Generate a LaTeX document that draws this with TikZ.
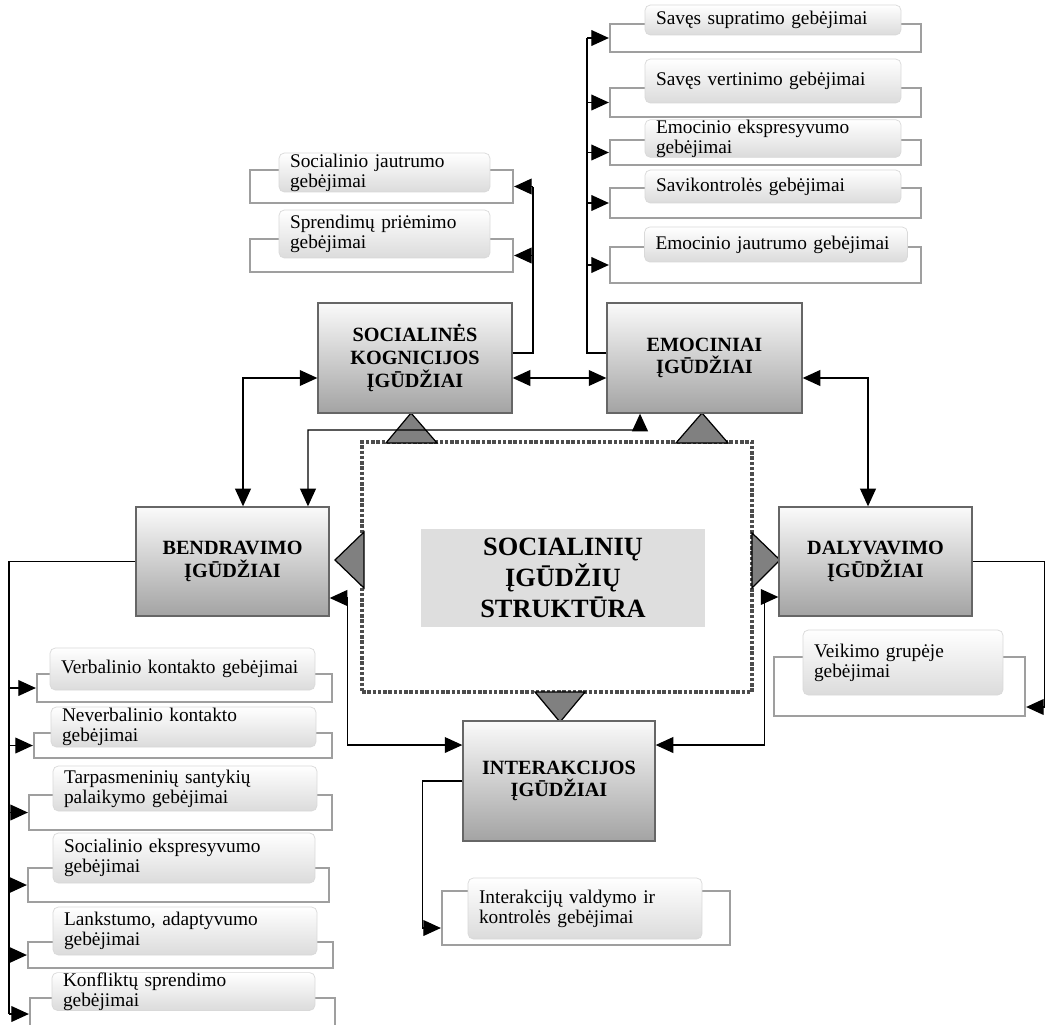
\documentclass[tikz,border=0pt]{standalone}
\usepackage{fontspec}
\setmainfont{Liberation Serif}
\usepackage{tikz}
\usetikzlibrary{arrows.meta}
\usetikzlibrary{calc}
\hyphenpenalty=10000
\tikzstyle{igbox}=[draw=gray!80!black, line width=0.8pt, top color=gray!4, bottom color=gray!72, align=center, font=\bfseries\fontsize{11.5}{13}\selectfont, minimum width=3.88cm, minimum height=2.2cm, inner sep=0pt]
\tikzstyle{gbox}=[draw=gray!75, line width=1.3pt, inner sep=0pt]
\tikzstyle{gcard}=[draw=gray!30, line width=0.4pt, rounded corners=3pt, top color=white, bottom color=gray!28, align=left, inner xsep=0.22cm, inner ysep=0pt, font=\fontsize{11}{11.4}\selectfont]
\tikzstyle{tri}=[draw=black, fill=gray, line width=0.7pt, line join=miter]
\begin{document}
\begin{tikzpicture}[x=0.02cm, y=-0.02cm, >={Triangle[length=10pt,width=9pt]}, line width=0.7pt]
\useasboundingbox[fill=white] (0,0) rectangle (1047,1024);
% centre
\node[draw=gray!60!black, densely dotted, line width=2pt, minimum width=7.8cm, minimum height=5cm] (sis) at (557,567) {};
\node[fill=gray!26, minimum width=5.68cm, minimum height=1.96cm, align=center, font=\bfseries\fontsize{15}{17.6}\selectfont] (sist) at (563,578) {SOCIALINIŲ\\ĮGŪDŽIŲ\\STRUKTŪRA};
\draw[tri] (386,443) -- (411,413) -- (437,443) -- cycle;
\draw[tri] (676,443) -- (702,413) -- (728,443) -- cycle;
\draw[tri] (364,532) -- (335,560) -- (364,588) -- cycle;
\draw[tri] (752,533) -- (780,560) -- (752,588) -- cycle;
\draw[tri] (535,692) -- (560,722) -- (585,692) -- cycle;
% main skills
\node[igbox] (sk) at (415,358) {SOCIALINĖS\\KOGNICIJOS\\ĮGŪDŽIAI};
\node[igbox, minimum width=3.9cm] (em) at (704.5,358) {EMOCINIAI\\ĮGŪDŽIAI};
\node[igbox, minimum width=3.86cm, minimum height=2.18cm] (bd) at (232.5,561.5) {BENDRAVIMO\\ĮGŪDŽIAI};
\node[igbox, minimum width=3.86cm, minimum height=2.18cm] (dl) at (875.5,561.5) {DALYVAVIMO\\ĮGŪDŽIAI};
\node[igbox, minimum width=3.84cm, minimum height=2.4cm] (in) at (559,781) {INTERAKCIJOS\\ĮGŪDŽIAI};
% socialines kognicijos gebejimai
\node[gbox, minimum width=5.26cm, minimum height=0.66cm] (sf1) at (381.5,186.5) {};
\node[gbox, minimum width=5.26cm, minimum height=0.66cm] (sf2) at (381.5,255.5) {};
\node[gcard, text width=3.78cm, minimum height=0.78cm] (sc1) at (384.5,172.5) {Socialinio jautrumo\\gebėjimai};
\node[gcard, text width=3.78cm, minimum height=0.96cm] (sc2) at (384.5,234) {Sprendimų priėmimo\\gebėjimai};
% emociniai gebejimai
\node[gbox, minimum width=6.22cm, minimum height=0.56cm] (ef1) at (765.5,38) {};
\node[gbox, minimum width=6.22cm, minimum height=0.58cm] (ef2) at (765.5,102.5) {};
\node[gbox, minimum width=6.22cm, minimum height=0.5cm] (ef3) at (765.5,152.5) {};
\node[gbox, minimum width=6.22cm, minimum height=0.6cm] (ef4) at (765.5,203) {};
\node[gbox, minimum width=6.22cm, minimum height=0.72cm] (ef5) at (765.5,265) {};
\node[gcard, text width=4.68cm, minimum height=0.6cm] (ec1) at (773,20) {Savęs supratimo gebėjimai};
\node[gcard, text width=4.68cm, minimum height=0.88cm] (ec2) at (773,81) {Savęs vertinimo gebėjimai};
\node[gcard, text width=4.68cm, minimum height=0.66cm] (ec3) at (773,138.5) {Emocinio ekspresyvumo\\gebėjimai};
\node[gcard, text width=4.68cm, minimum height=0.66cm] (ec4) at (773,186.5) {Savikontrolės gebėjimai};
\node[gcard, text width=4.82cm, minimum height=0.7cm] (ec5) at (776,244.5) {Emocinio jautrumo gebėjimai};
% bendravimo gebejimai
\node[gbox, minimum width=5.9cm, minimum height=0.56cm] (bf1) at (184.5,688) {};
\node[gbox, minimum width=5.96cm, minimum height=0.5cm] (bf2) at (183,745.5) {};
\node[gbox, minimum width=6.06cm, minimum height=0.7cm] (bf3) at (180.5,812.5) {};
\node[gbox, minimum width=6.02cm, minimum height=0.68cm] (bf4) at (178.5,885) {};
\node[gbox, minimum width=6.1cm, minimum height=0.52cm] (bf5) at (180.5,955) {};
\node[gbox, minimum width=6.1cm, minimum height=0.64cm] (bf6) at (182.5,1014) {};
\node[gcard, text width=4.86cm, minimum height=0.84cm] (bc1) at (182.5,669) {Verbalinio kontakto gebėjimai};
\node[gcard, text width=4.86cm, minimum height=0.8cm] (bc2) at (183.5,727) {Neverbalinio kontakto\\gebėjimai};
\node[gcard, text width=4.84cm, minimum height=0.9cm] (bc3) at (185,788.5) {Tarpasmeninių santykių\\palaikymo gebėjimai};
\node[gcard, text width=4.8cm, minimum height=1cm] (bc4) at (184,858) {Socialinio ekspresyvumo\\gebėjimai};
\node[gcard, text width=4.84cm, minimum height=0.96cm] (bc5) at (185,931) {Lankstumo, adaptyvumo\\gebėjimai};
\node[gcard, text width=4.82cm, minimum height=0.74cm] (bc6) at (183.5,991.5) {Konfliktų sprendimo\\gebėjimai};
% dalyvavimo ir interakcijos gebejimai
\node[gbox, minimum width=5.02cm, minimum height=1.18cm] (vf) at (899.5,686.5) {};
\node[gcard, text width=3.56cm, minimum height=1.3cm] (vc) at (903,662.5) {Veikimo grupėje\\gebėjimai};
\node[gbox, minimum width=5.76cm, minimum height=1.08cm] (ivf) at (586,918) {};
\node[gcard, text width=4.24cm, minimum height=1.22cm] (ivc) at (585,908.5) {Interakcijų valdymo ir\\kontrolės gebėjimai};
% spines
\coordinate (skspine) at (533,186.5);
\coordinate (emspine) at (587,38);
\coordinate (bdspine) at (9,1014);
\coordinate (tjog) at (308,430);
% connectors
\draw[<->] ([yshift=-0.4cm]sk.east) -- ([yshift=-0.4cm]em.west);
\draw[<->] ([xshift=0.21cm]bd.north) |- ([yshift=-0.4cm]sk.west);
\draw[<->] ([yshift=-0.4cm]em.east) -| ([xshift=-0.15cm]dl.north);
\draw[<->] ([xshift=-1.29cm]em.south) |- (tjog) -- ([xshift=1.51cm]bd.north);
\draw[<->] ([yshift=-0.73cm]bd.east) -- ++(18,0) |- ([yshift=0.72cm]in.west);
\draw[<->] ([yshift=-0.71cm]dl.west) -- ++(-14,0) |- ([yshift=0.72cm]in.east);
\draw ([yshift=0.1cm]sk.east) -| (skspine);
\draw[->] (skspine) -- (sf1.east);
\draw[->] (skspine |- sf2.east) -- (sf2.east);
\draw ([yshift=0.1cm]em.west) -| (emspine);
\foreach \i in {1,...,5}
  \draw[->] (emspine |- ef\i.west) -- (ef\i.west);
\draw (bd.west) -| (bdspine);
\foreach \i in {1,...,6}
  \draw[->] (bdspine |- bf\i.west) -- (bf\i.west);
\draw[->] (dl.east) -- ++(72,0) |- ([yshift=-0.41cm]vf.east);
\draw[->] (in.west) -- ++(-40,0) |- ([yshift=-0.2cm]ivf.west);
\end{tikzpicture}
\end{document}
